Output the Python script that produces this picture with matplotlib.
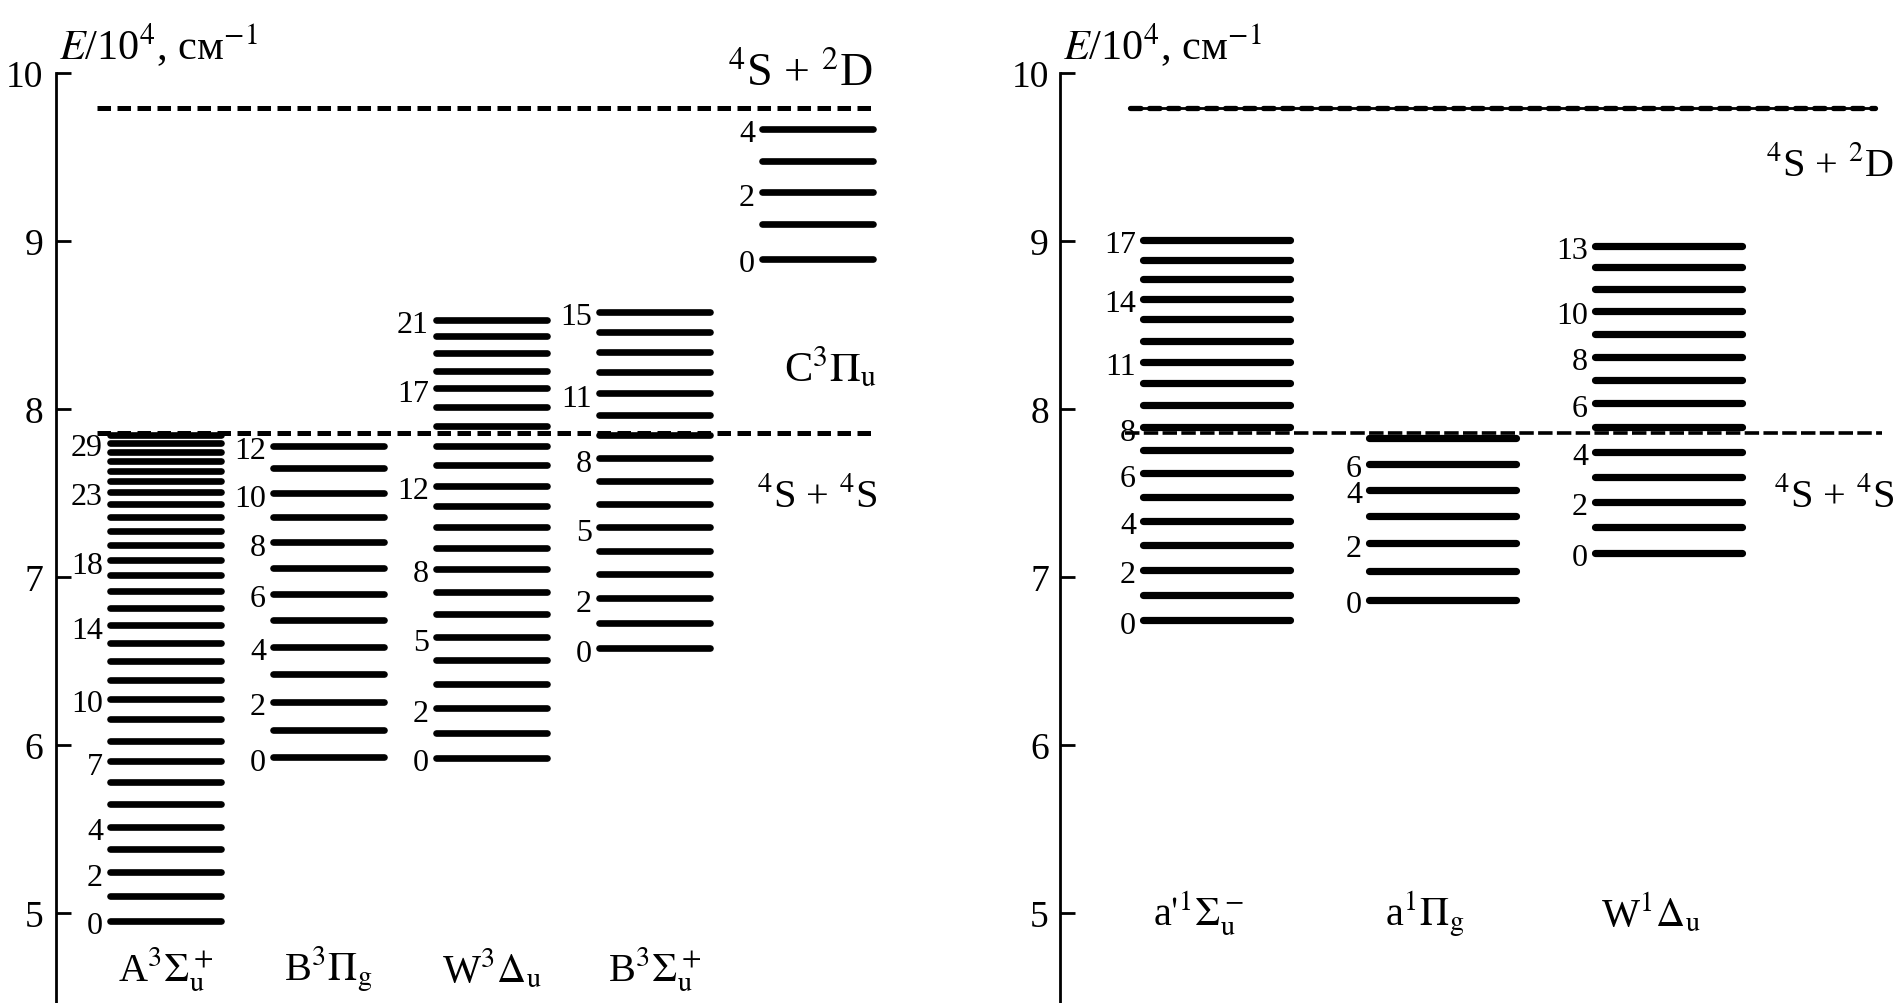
import matplotlib
matplotlib.use("Agg")
import matplotlib.pyplot as plt
from matplotlib.transforms import offset_copy

plt.rcParams['font.family'] = ['Liberation Serif', 'DejaVu Serif']
plt.rcParams['mathtext.fontset'] = 'stix'

# ---------------- data (energies in 10^4 cm^-1) ----------------
# Left panel: triplet states
A3Su_levels = [4.954, 5.103, 5.242, 5.381, 5.514, 5.649, 5.778, 5.903, 6.026, 6.155,
               6.274, 6.387, 6.498, 6.607, 6.714, 6.814, 6.918, 7.014, 7.101, 7.190,
               7.276, 7.355, 7.435, 7.508, 7.570, 7.633, 7.692, 7.746, 7.798, 7.845]
A3Su_label_idx = [0, 2, 4, 7, 10, 14, 18, 23, 28]
A3Su_label_txt = ['0', '2', '4', '7', '10', '14', '18', '23', '29']

B3Pg_levels = [5.927, 6.089, 6.258, 6.423, 6.585, 6.746, 6.899, 7.052, 7.207, 7.355,
               7.498, 7.647, 7.782]
B3Pg_label_idx = [0, 2, 4, 6, 8, 10, 12]
B3Pg_label_txt = ['0', '2', '4', '6', '8', '10', '12']

W3Du_levels = [5.923, 6.071, 6.218, 6.363, 6.506, 6.641, 6.780, 6.912, 7.048, 7.173,
               7.299, 7.421, 7.544, 7.667, 7.782, 7.901, 8.014, 8.123, 8.228, 8.331,
               8.433, 8.530]
W3Du_label_idx = [0, 2, 5, 8, 12, 17, 21]
W3Du_label_txt = ['0', '2', '5', '8', '12', '17', '21']

B3Su_levels = [6.576, 6.726, 6.873, 7.018, 7.157, 7.296, 7.435, 7.573, 7.707, 7.845,
               7.964, 8.093, 8.218, 8.341, 8.460, 8.579]
B3Su_label_idx = [0, 2, 5, 8, 11, 15]
B3Su_label_txt = ['0', '2', '5', '8', '11', '15']

C3Pu_levels = [8.893, 9.101, 9.290, 9.478, 9.667]
C3Pu_label_idx = [0, 2, 4]
C3Pu_label_txt = ['0', '2', '4']

# Right panel: singlet states
a1Su_levels = [6.744, 6.895, 7.044, 7.192, 7.335, 7.478, 7.617, 7.756, 7.891, 8.024,
               8.155, 8.282, 8.407, 8.536, 8.655, 8.774, 8.889, 9.008]
a1Su_label_idx = [0, 2, 4, 6, 8, 11, 14, 17]
a1Su_label_txt = ['0', '2', '4', '6', '8', '11', '14', '17']

a1Pg_levels = [6.865, 7.034, 7.201, 7.365, 7.520, 7.673, 7.827]
a1Pg_label_idx = [0, 2, 4, 5]
a1Pg_label_txt = ['0', '2', '4', '6']

W1Du_levels = [7.143, 7.300, 7.448, 7.597, 7.746, 7.891, 8.034, 8.173, 8.311, 8.446,
               8.585, 8.714, 8.843, 8.972]
W1Du_label_idx = [0, 2, 4, 6, 8, 10, 13]
W1Du_label_txt = ['0', '2', '4', '6', '8', '10', '13']

# dissociation limits
limit_4S4S = 7.86
limit_4S2D = 9.79

left_state_names = [r'A$^3\Sigma_\mathrm{u}^+$', r'B$^3\Pi_\mathrm{g}$', r'W$^3\Delta_\mathrm{u}$',
                    r'B$^3\Sigma_\mathrm{u}^+$']
right_state_names = [r"a$'^1\Sigma_\mathrm{u}^-$", r'a$^1\Pi_\mathrm{g}$', r'W$^1\Delta_\mathrm{u}$']
yticks = [5, 6, 7, 8, 9, 10]
ylabel_txt = r'$E$/10$^4$, см$^{-1}$'

# ---------------- layout ----------------
W, H = 1901, 1004
fig = plt.figure(figsize=(W / 100, H / 100), dpi=100)
px_per_unit = 168.0
E_top = 10 + 74 / px_per_unit
E_bot = 10 - (H - 74) / px_per_unit

axL = fig.add_axes([56 / W, 0, 844 / W, 1])
axR = fig.add_axes([1060 / W, 0, 841 / W, 1])
for ax, xmax, pad in ((axL, 844, 9), (axR, 841, 8)):
    ax.set_xlim(0, xmax)
    ax.set_ylim(E_bot, E_top)
    ax.patch.set_alpha(0)
    for s in ('top', 'right', 'bottom'):
        ax.spines[s].set_visible(False)
    ax.spines['left'].set_linewidth(2.0)
    ax.spines['left'].set_bounds(E_bot, 10)
    ax.set_xticks([])
    ax.set_yticks(yticks)
    ax.set_yticklabels([str(t) for t in yticks])
    ax.tick_params(axis='y', direction='in', length=11, width=2.0, labelsize=27, pad=pad)
    ax.text(3, 10.17, ylabel_txt, fontsize=30.5, ha='left', va='center')


def draw_state(ax, x0, width, levels, lidx, ltxt, lw=4.8):
    for e in levels:
        ax.plot([x0, x0 + width], [e, e], color='black', lw=lw, solid_capstyle='round')
    tr = offset_copy(ax.transData, fig=fig, x=0, y=-5, units='dots')
    for i, t in zip(lidx, ltxt):
        ax.text(x0 - 7, levels[i], t, ha='right', va='center', fontsize=23, transform=tr)


# Left panel
left_states = [(A3Su_levels, A3Su_label_idx, A3Su_label_txt),
               (B3Pg_levels, B3Pg_label_idx, B3Pg_label_txt),
               (W3Du_levels, W3Du_label_idx, W3Du_label_txt),
               (B3Su_levels, B3Su_label_idx, B3Su_label_txt),
               (C3Pu_levels, C3Pu_label_idx, C3Pu_label_txt)]
colw_L, step_L, start_L = 111, 163, 54
for k, (lv, li, lt) in enumerate(left_states):
    draw_state(axL, start_L + k * step_L, colw_L, lv, li, lt)
for k, name in enumerate(left_state_names):
    axL.text(start_L + k * step_L + colw_L / 2, 4.667, name, ha='center', va='center', fontsize=29)

for lim in (limit_4S4S, limit_4S2D):
    axL.plot([41, 819], [lim, lim], color='black', lw=3.6, dashes=(2.7, 1.3),
             solid_capstyle='butt', dash_capstyle='butt')
axL.text(817, 9.995, r'$^4$S + $^2$D', ha='right', va='center', fontsize=33)
axL.text(821, 8.25, r'C$^3\Pi_\mathrm{u}$', ha='right', va='center', fontsize=30.5)
axL.text(821, 7.48, r'$^4$S + $^4$S', ha='right', va='center', fontsize=29)

# Right panel
right_states = [(a1Su_levels, a1Su_label_idx, a1Su_label_txt),
                (a1Pg_levels, a1Pg_label_idx, a1Pg_label_txt),
                (W1Du_levels, W1Du_label_idx, W1Du_label_txt)]
colw_R, step_R, start_R = 147, 226, 83
for k, (lv, li, lt) in enumerate(right_states):
    draw_state(axR, start_R + k * step_R, colw_R, lv, li, lt, lw=5.2)
for k, name in enumerate(right_state_names):
    axR.text(start_R + k * step_R + colw_R / 2 - 18, 5.0, name, ha='center', va='center', fontsize=29)

axR.plot([70, 815], [limit_4S2D, limit_4S2D], color='black', lw=2.0, solid_capstyle='butt')
axR.plot([70, 815], [limit_4S2D, limit_4S2D], color='black', lw=3.8, dashes=(2.0, 1.6),
         dash_capstyle='round')
axR.plot([65, 822], [limit_4S4S - 0.005, limit_4S4S - 0.005], color='black', lw=2.6,
         dashes=(4.0, 1.2), dash_capstyle='butt')
axR.text(834, 9.45, r'$^4$S + $^2$D', ha='right', va='center', fontsize=29)
axR.text(834, 7.48, r'$^4$S + $^4$S', ha='right', va='center', fontsize=29)

fig.savefig('out.png', dpi=100)
